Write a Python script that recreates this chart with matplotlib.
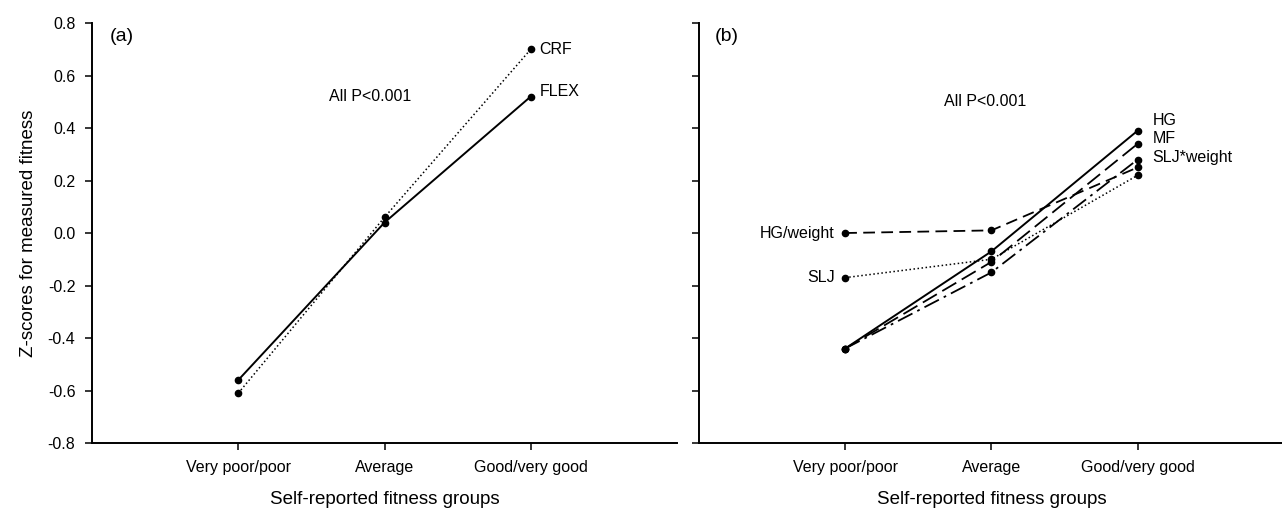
import matplotlib
matplotlib.use("Agg")
import matplotlib.pyplot as plt

plt.rcParams["font.family"] = ["Liberation Sans", "DejaVu Sans"]

# --- Andmed ---
groups = ["Very poor/poor", "Average", "Good/very good"]
xpos = [1, 2, 3]

# (a)
crf = [-0.61, 0.06, 0.70]
flex = [-0.56, 0.04, 0.52]

# (b)
hg = [-0.44, -0.07, 0.39]
mf = [-0.44, -0.11, 0.34]
slj_weight = [-0.44, -0.15, 0.28]
hg_weight = [0.00, 0.01, 0.25]
slj = [-0.17, -0.10, 0.22]

yticks = [-0.8, -0.6, -0.4, -0.2, 0.0, 0.2, 0.4, 0.6, 0.8]

FS_TICK = 11.5
FS_NOTE = 11.5
FS_LAB = 13.5


def style_axes(ax, show_ylabels=True):
    ax.set_xlim(0, 4)
    ax.set_ylim(-0.8, 0.8)
    for s in ("top", "right"):
        ax.spines[s].set_visible(False)
    for s in ("left", "bottom"):
        ax.spines[s].set_linewidth(1.4)
    ax.set_xticks(xpos)
    ax.set_xticklabels(groups, fontsize=FS_TICK)
    ax.set_yticks(yticks)
    if show_ylabels:
        ax.set_yticklabels([f"{v:.1f}" for v in yticks], fontsize=FS_TICK)
    else:
        ax.set_yticklabels([])
    ax.tick_params(direction="out", length=5, width=1.1, pad=7)
    ax.set_xlabel("Self-reported fitness groups", fontsize=FS_LAB, labelpad=12)


fig = plt.figure(figsize=(12.82, 5.11), dpi=100)
ax1 = fig.add_axes([0.0718, 0.133, 0.4563, 0.822])
ax2 = fig.add_axes([0.5452, 0.133, 0.4563, 0.822])

mk = dict(marker="o", markersize=4.5, color="black")

# --- Paneel (a) ---
ax1.plot(xpos, crf, linestyle=":", linewidth=1.1, **mk)
ax1.plot(xpos, flex, linestyle="-", linewidth=1.4, **mk)
ax1.text(3.06, crf[2], "CRF", fontsize=FS_NOTE, va="center", ha="left")
ax1.text(3.06, flex[2] + 0.02, "FLEX", fontsize=FS_NOTE, va="center", ha="left")
ax1.text(1.9, 0.52, "All P<0.001", fontsize=FS_NOTE, ha="center", va="center")
ax1.text(0.12, 0.75, "(a)", fontsize=14, ha="left", va="center")
style_axes(ax1)
ax1.set_ylabel("Z-scores for measured fitness", fontsize=FS_LAB, labelpad=8)

# --- Paneel (b) ---
ax2.plot(xpos, hg, linestyle="-", linewidth=1.4, **mk)
ax2.plot(xpos, mf, linestyle=(0, (9, 3.5)), linewidth=1.3, **mk)
ax2.plot(xpos, slj_weight, linestyle=(0, (9, 3, 1.5, 3)), linewidth=1.3, **mk)
ax2.plot(xpos, hg_weight, linestyle=(0, (6.5, 3.5)), linewidth=1.3, **mk)
ax2.plot(xpos, slj, linestyle=":", linewidth=1.1, **mk)
ax2.text(3.1, 0.43, "HG", fontsize=FS_NOTE, va="center", ha="left")
ax2.text(3.1, 0.36, "MF", fontsize=FS_NOTE, va="center", ha="left")
ax2.text(3.1, 0.287, "SLJ*weight", fontsize=FS_NOTE, va="center", ha="left")
ax2.text(0.93, hg_weight[0], "HG/weight", fontsize=FS_NOTE, va="center", ha="right")
ax2.text(0.93, slj[0], "SLJ", fontsize=FS_NOTE, va="center", ha="right")
ax2.text(1.96, 0.50, "All P<0.001", fontsize=FS_NOTE, ha="center", va="center")
ax2.text(0.11, 0.75, "(b)", fontsize=14, ha="left", va="center")
style_axes(ax2, show_ylabels=False)

fig.savefig("out.png", dpi=100)
